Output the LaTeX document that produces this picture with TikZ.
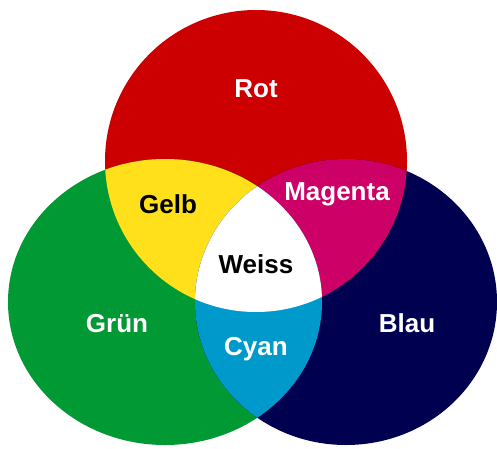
\documentclass[tikz,border=0pt]{standalone}
\usepackage{fontspec}
\setmainfont{Liberation Sans}
\definecolor{cRot}{HTML}{CC0000}
\definecolor{cGruen}{HTML}{009933}
\definecolor{cBlau}{HTML}{000050}
\definecolor{cGelb}{HTML}{FFE01A}
\definecolor{cMagenta}{HTML}{CC0066}
\definecolor{cCyan}{HTML}{0099CC}
\tikzset{
  lbl/.style={anchor=base, inner sep=0pt, font=\fontsize{26}{30}\selectfont\bfseries},
  lblw/.style={lbl, text=white},
  lblb/.style={lbl, text=black}
}
\begin{document}
\begin{tikzpicture}[x=1pt,y=1pt]
\useasboundingbox (0,0) rectangle (497,448);
\fill[white] (0,0) rectangle (497,448);
\def\redpath{(256,287) circle [radius=151]}
\def\greenpath{(165,146) ellipse [x radius=157, y radius=143]}
\def\bluepath{(346,146) ellipse [x radius=151, y radius=143]}
% primary circles
\fill[cRot] \redpath;
\fill[cGruen] \greenpath;
\fill[cBlau] \bluepath;
% secondary overlaps
\begin{scope}
  \clip \redpath;
  \fill[cGelb] \greenpath;
\end{scope}
\begin{scope}
  \clip \redpath;
  \fill[cMagenta] \bluepath;
\end{scope}
\begin{scope}
  \clip \greenpath;
  \fill[cCyan] \bluepath;
\end{scope}
\begin{scope}
  \clip \redpath;
  \clip \greenpath;
  \fill[white] \bluepath;
\end{scope}
% labels
\node[lblw] (rot) at (256,351) {Rot};
\node[lblb] (gelb) at (168,235) {Gelb};
\node[lblw] (magenta) at (337,248) {Magenta};
\node[lblb] (weiss) at (256,175) {Weiss};
\node[lblw] (gruen) at (117,116) {Grün};
\node[lblw] (cyan) at (256,93) {Cyan};
\node[lblw] (blau) at (407,116) {Blau};
\end{tikzpicture}
\end{document}
